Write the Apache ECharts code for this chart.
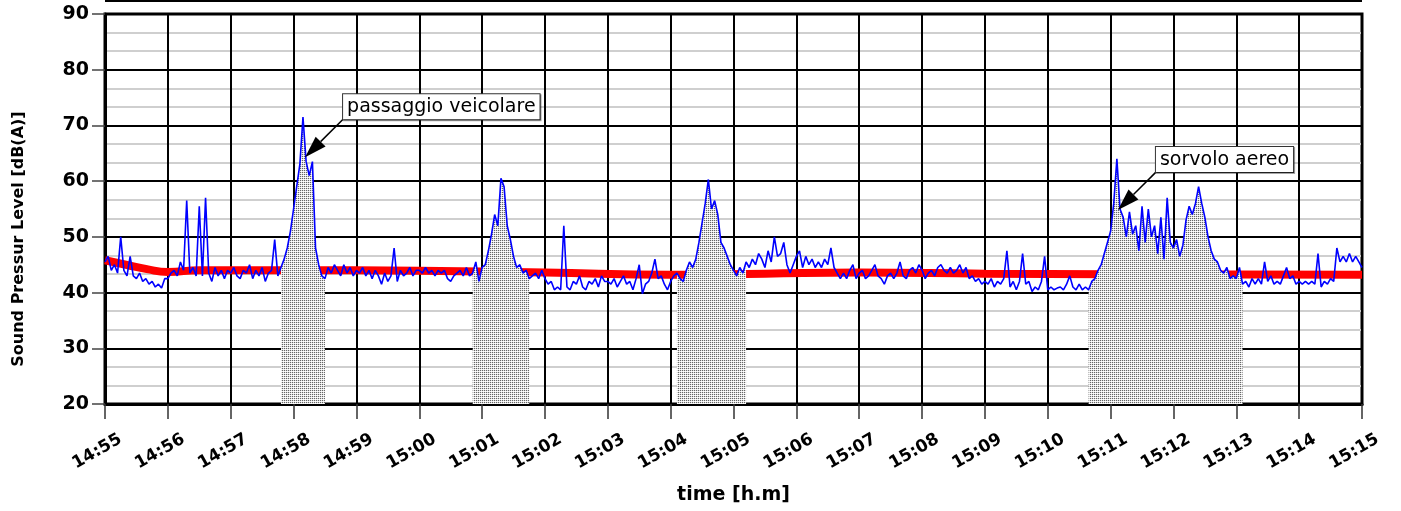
<!DOCTYPE html>
<html>
<head>
<meta charset="utf-8">
<script src="https://cdn.jsdelivr.net/npm/echarts@6/dist/echarts.min.js"></script>
<style>
  html, body { margin: 0; padding: 0; background: #fff; }
  #chart { width: 1401px; height: 511px; }
</style>
</head>
<body>
<div id="chart"></div>
<script>
// Sampling step of the sound level record, in seconds (t = 0 is 14:55:00)
const STEP = 3;

// Minute labels on the time axis
const timeLabels = ['14:55','14:56','14:57','14:58','14:59','15:00','15:01','15:02','15:03','15:04',
                    '15:05','15:06','15:07','15:08','15:09','15:10','15:11','15:12','15:13','15:14','15:15'];

// Short-time sound pressure level, dB(A), one row per minute
const splLevels = [
  45.5, 46.5, 44, 45, 43.5, 50, 44, 43, 46.5, 43, 42.5, 43.5, 42, 42.5, 41.5, 42, 41, 41.5, 40.8, 42.5,
  42.5, 43.5, 44, 43, 45.5, 44, 56.5, 43.5, 44.5, 43, 55.5, 43, 57, 43.5, 42, 44.5, 43, 44, 42.5, 44,
  43.5, 44.5, 43, 42.5, 44, 43.5, 45, 42.5, 44, 43, 44.5, 42, 43.5, 44, 49.5, 43, 44.5, 46, 48, 51,
  55, 59, 63, 71.5, 63.5, 61, 63.5, 48, 45, 43, 42.5, 44.5, 43.5, 45, 44, 43, 45, 43.5, 44.5, 43,
  44, 43.5, 44.5, 43, 44, 42.5, 44, 43, 41.5, 43.5, 42, 43, 48, 42, 44, 43, 43.5, 44.5, 43, 44,
  44, 43.5, 44.5, 43.5, 44, 43, 44, 43.5, 44, 42.5, 42, 43, 43.5, 44, 43, 44.5, 43, 43.5, 45.5, 42,
  44.5, 45, 47.5, 50.5, 54, 52, 60.5, 59, 52, 49.5, 46.5, 44.5, 45, 43.5, 44, 42.5, 43, 43.5, 42.5, 44,
  42.5, 41.5, 42, 40.5, 41, 40.5, 52, 41, 40.5, 42, 41.5, 43, 41, 40.5, 42, 41.5, 42.5, 41, 43, 42,
  42, 41.5, 42.5, 41, 42, 43, 41.5, 42, 40.5, 42.5, 45, 39.8, 41.5, 42, 43.5, 46, 42.5, 43, 41.5, 40.5,
  42, 43, 43.5, 42.5, 42, 44, 45.5, 44.5, 46, 49, 52.5, 56, 60.3, 55, 56.5, 54, 49, 48, 46.5, 45,
  44, 43, 44.5, 43.5, 45.5, 44.5, 46, 45, 47, 46, 44.5, 47.5, 45.5, 50, 46.5, 47, 49, 45, 43.5, 45,
  46.5, 47.5, 44.5, 46.5, 45, 46, 44.5, 45.5, 44.5, 46, 45, 48, 44.5, 43.5, 42.5, 43.5, 42.5, 44, 45, 42.5,
  43.5, 44, 42.5, 43, 44, 45, 43, 42.5, 41.5, 43, 43.5, 42.5, 43.5, 45.5, 43, 42.5, 44, 44.5, 43.5, 45,
  44, 42.5, 43.5, 44, 43, 44.5, 45, 44, 43.5, 44.5, 43.5, 44, 45, 43.5, 44.5, 42.5, 43, 42, 42.5, 41.5,
  42, 41.5, 42.5, 41, 42, 41.5, 42.5, 47.5, 41, 42, 40.5, 42, 47, 41.5, 42, 40.2, 41, 40.5, 42, 46.5,
  40.5, 41, 40.5, 40.8, 41, 40.5, 41.5, 43, 41, 40.5, 41.5, 40.5, 41, 40.5, 42, 42.5, 44, 45, 47, 49,
  51, 56, 64, 55, 53.5, 50, 54.5, 50.5, 52, 47.5, 55.5, 49, 55, 50, 52, 47, 53.5, 46, 57, 49,
  48, 49.5, 46.5, 48.5, 53, 55.5, 54, 56, 59, 56, 53.5, 50, 47.5, 46, 45.5, 44, 43.5, 44.5, 42.5, 43,
  42.5, 44.5, 41.5, 42, 41, 42.5, 41.5, 42.5, 41.5, 45.5, 42, 43, 41.5, 42, 41.5, 43, 44.5, 42.5, 43, 41.5,
  42, 41.5, 42, 41.5, 42, 41.5, 47, 41, 42, 41.5, 42.5, 42, 48, 45.5, 46.5, 45.5, 47, 45.5, 46.5, 45.5,
  44.5
];

// Running equivalent level (Leq), dB(A)
const leqTimes  = [0, 20, 40, 60, 90, 180, 300, 420, 540, 630, 720, 840, 960, 1200];
const leqLevels = [45.8, 45.0, 44.2, 43.7, 44.0, 44.0, 43.9, 43.6, 43.2, 43.4, 43.6, 43.4, 43.3, 43.2];

// Noise events (start / end second) shaded under the level trace
const eventWindows = [[168, 210], [351, 405], [546, 612], [939, 1086]];

// Event labels and the point of the trace they refer to [second, dB(A)]
const eventNotes = [
  { text: 'passaggio veicolare', at: [191, 64.3] },
  { text: 'sorvolo aereo',       at: [967, 54.8] }
];

const FONT = 'DejaVu Sans';

// stippled grey used for the event shading
function stipple() {
  const c = document.createElement('canvas');
  c.width = 2; c.height = 2;
  const g = c.getContext('2d');
  g.fillStyle = '#ffffff'; g.fillRect(0, 0, 2, 2);
  g.fillStyle = '#dcdcdc'; g.fillRect(1, 0, 1, 1);
  g.fillStyle = '#ececec'; g.fillRect(0, 1, 1, 1);
  g.fillStyle = '#666666'; g.fillRect(0, 0, 1, 1);
  return c;
}
const stippleImg = stipple();

const tracePoints = splLevels.map((v, i) => [i * STEP, v]);
const leqPoints = leqTimes.map((t, i) => [t, leqLevels[i]]);

const eventSeries = eventWindows.map(([a, b]) => ({
  type: 'line',
  data: tracePoints.filter(p => p[0] >= a && p[0] <= b),
  symbol: 'none',
  silent: true,
  z: 3,
  lineStyle: { width: 0, opacity: 0 },
  areaStyle: { color: { image: stippleImg, repeat: 'repeat' }, opacity: 1, origin: 'start' }
}));

const chart = echarts.init(document.getElementById('chart'), null, { renderer: 'canvas' });

chart.setOption({
  animation: false,
  backgroundColor: '#fff',
  grid: {
    left: 105, right: 39, top: 14, bottom: 107,
    show: true, borderColor: '#000', borderWidth: 3, backgroundColor: 'transparent'
  },
  xAxis: {
    type: 'value', min: 0, max: 1200, interval: 60, z: 2,
    axisLine: { show: true, onZero: false, lineStyle: { color: '#000', width: 3 } },
    axisTick: { show: true, length: 15, lineStyle: { color: '#333', width: 1.5 } },
    axisLabel: {
      formatter: v => timeLabels[Math.round(v / 60)],
      rotate: 30, align: 'center', verticalAlign: 'middle', margin: 43,
      padding: [0, 18, 0, 0],
      showMinLabel: true, showMaxLabel: true,
      fontFamily: FONT, fontWeight: 'bold', fontSize: 17, color: '#000'
    },
    splitLine: { show: true, lineStyle: { color: '#000', width: 2 } },
    name: 'time [h.m]', nameLocation: 'middle', nameGap: 82,
    nameTextStyle: { fontFamily: FONT, fontWeight: 'bold', fontSize: 19, color: '#000' }
  },
  yAxis: [
    {
      type: 'value', min: 20, max: 90, interval: 10, z: 2,
      axisLine: { show: true, lineStyle: { color: '#000', width: 3 } },
      axisTick: { show: true, length: 13, lineStyle: { color: '#444', width: 1.5 } },
      axisLabel: { fontFamily: FONT, fontWeight: 'bold', fontSize: 19, color: '#000', margin: 16 },
      splitLine: { show: true, lineStyle: { color: '#000', width: 2 } },
      name: 'Sound Pressur Level [dB(A)]', nameLocation: 'middle', nameGap: 78,
      nameTextStyle: { fontFamily: FONT, fontWeight: 'bold', fontSize: 16, color: '#000', padding: [0, 60, 0, 0] }
    },
    {
      // light grid every third of a 10 dB step (21 steps over 20..90 dB)
      type: 'value', min: 0, max: 21, interval: 1, position: 'left', z: 0,
      axisLine: { show: false }, axisTick: { show: false }, axisLabel: { show: false },
      splitLine: { show: true, lineStyle: { color: '#cfcfcf', width: 2 } }
    }
  ],
  series: [
    {
      type: 'line', data: leqPoints, smooth: true, symbol: 'none', silent: true, z: 2,
      lineStyle: { color: '#ff0000', width: 8 }
    },
    ...eventSeries,
    {
      type: 'line', data: tracePoints, symbol: 'none', silent: true, z: 4,
      lineStyle: { color: '#0000ff', width: 1.6 }
    }
  ]
});

// Callout boxes with arrows pointing at the event peaks
const graphics = [
  { type: 'line', silent: true, shape: { x1: 105, y1: 1, x2: 1362, y2: 1 },
    style: { stroke: '#000', lineWidth: 2 } }
];
eventNotes.forEach(note => {
  const [tx, ty] = chart.convertToPixel({ gridIndex: 0 }, note.at);
  const cx = tx + 38, cy = ty - 38;           // lower-left corner of the label box
  const d = Math.SQRT1_2;
  const bx = tx + 22 * d, by = ty - 22 * d;   // base of the arrow head
  graphics.push(
    { type: 'line', silent: true, z: 10, shape: { x1: cx, y1: cy, x2: bx, y2: by },
      style: { stroke: '#000', lineWidth: 1.5 } },
    { type: 'polygon', silent: true, z: 10,
      shape: { points: [[tx, ty], [bx + 7 * d, by + 7 * d], [bx - 7 * d, by - 7 * d]] },
      style: { fill: '#000' } },
    { type: 'text', silent: true, z: 11, x: cx, y: cy,
      style: {
        text: note.text, font: '19px "DejaVu Sans"', fill: '#000',
        backgroundColor: '#fff', borderColor: '#333', borderWidth: 1,
        padding: [3, 4, 3, 4], verticalAlign: 'bottom', align: 'left',
        shadowColor: 'rgba(0,0,0,0.35)', shadowOffsetX: 1, shadowOffsetY: 1
      } }
  );
});
chart.setOption({ graphic: graphics });
</script>
</body>
</html>
